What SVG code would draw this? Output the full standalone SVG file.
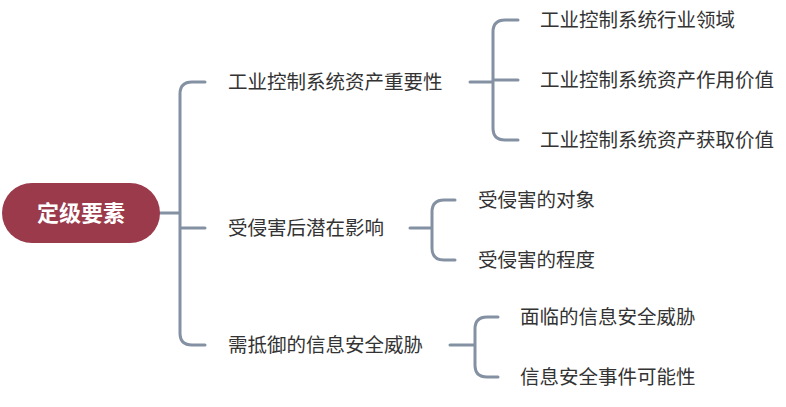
<svg xmlns="http://www.w3.org/2000/svg" width="786" height="407" viewBox="0 0 786 407">
<style>
.c{fill:none;stroke:#8391a3;stroke-width:3;stroke-linecap:round}
.t{font-family:"Noto Sans CJK SC",sans-serif;font-size:19.5px;fill:#333}
.r{font-family:"Noto Sans CJK SC",sans-serif;font-size:22px;font-weight:bold;fill:#fff}
</style>
<rect width="786" height="407" fill="#fff"/>
<g id="connectors">
<path class="c" d="M160 213H180M205 82H192Q180 82 180 94V333Q180 345 192 345H205M180 228H205"/>
<path class="c" d="M470 82H493M518 20H505Q493 20 493 32V128Q493 140 505 140H518M493 80H518"/>
<path class="c" d="M410 228H432M455 200H444Q432 200 432 212V248Q432 260 444 260H455"/>
<path class="c" d="M450 345H475M498 317H487Q475 317 475 329V365Q475 377 487 377H498"/>
</g>
<g id="root"><rect x="2" y="183" width="158" height="60" rx="30" fill="#9b3a4b"/><text class="r" x="81" y="221" text-anchor="middle">定级要素</text></g>
<g id="n1"><text class="t" x="228" y="89">工业控制系统资产重要性</text></g>
<g id="n2"><text class="t" x="228" y="235">受侵害后潜在影响</text></g>
<g id="n3"><text class="t" x="228" y="352">需抵御的信息安全威胁</text></g>
<g id="n11"><text class="t" x="540" y="27">工业控制系统行业领域</text></g>
<g id="n12"><text class="t" x="540" y="87">工业控制系统资产作用价值</text></g>
<g id="n13"><text class="t" x="540" y="147">工业控制系统资产获取价值</text></g>
<g id="n21"><text class="t" x="478" y="207">受侵害的对象</text></g>
<g id="n22"><text class="t" x="478" y="267">受侵害的程度</text></g>
<g id="n31"><text class="t" x="520" y="324">面临的信息安全威胁</text></g>
<g id="n32"><text class="t" x="520" y="384">信息安全事件可能性</text></g>
</svg>
